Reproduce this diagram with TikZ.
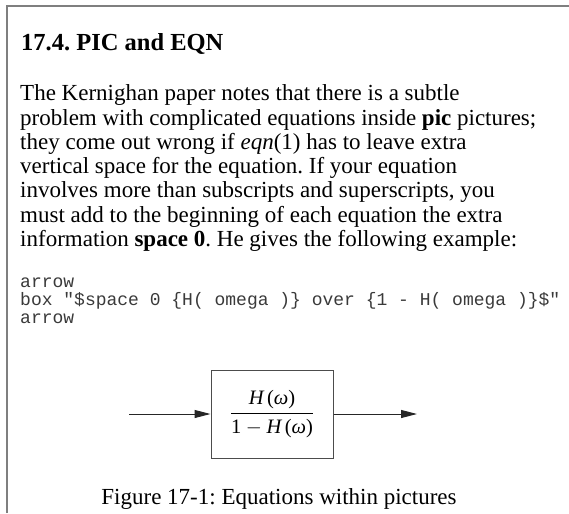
\documentclass[tikz,border=0pt]{standalone}
\usepackage{fontspec}
\setmainfont{Liberation Serif}
\setmonofont{Liberation Mono}
\usetikzlibrary{arrows.meta}
\definecolor{framegray}{HTML}{7F7F7F}
\definecolor{codegray}{HTML}{3A3A3A}
\frenchspacing
\tikzset{
  txt/.style={anchor=base west, inner sep=0pt, font=\fontsize{23}{24}\selectfont},
  code/.style={anchor=base west, inner sep=0pt, text=codegray, font=\fontsize{18}{20}\ttfamily},
  flow/.style={-{Triangle[length=16pt,width=8pt]}, line width=1pt, draw=black!85, fill=black!85},
  tfbox/.style={draw=black!70, line width=1pt, minimum width=122pt, minimum height=88pt, inner sep=0pt}
}
\begin{document}
\begin{tikzpicture}[x=1pt,y=-1pt]
  \useasboundingbox (0,0) rectangle (569,513);
  \draw[framegray, line width=2pt] (7,513) -- (7,6) -- (569,6);
  \node[txt, font=\fontsize{24.5}{28}\selectfont\bfseries] (title) at (21,51) {17.4. PIC and EQN};
  % paragraph, one node per printed line
  \foreach \ln [count=\i from 0] in {{The Kernighan paper notes that there is a subtle},
      {problem with complicated equations inside \textbf{pic} pictures;},
      {they come out wrong if \textit{eqn}(1) has to leave extra},
      {vertical space for the equation. If your equation},
      {involves more than subscripts and superscripts, you},
      {must add to the beginning of each equation the extra},
      {information \textbf{space 0}. He gives the following example:}} {
    \node[txt] (body\i) at (20,{101+24.2*\i}) {\ln};
  }
  \foreach \ln [count=\i from 0] in {{arrow},
      {box "\$space 0 \{H( omega )\} over \{1 - H( omega )\}\$"},
      {arrow}} {
    \node[code] (code\i) at (20,{287+18*\i}) {\ln};
  }
  % the block diagram
  \coordinate (in) at (129,414);
  \node[tfbox, font=\fontsize{20.5}{24}\selectfont] (tf) at (272,414)
    {$\displaystyle\frac{\textit{H}\,\textrm{(}\textit{ω}\textrm{)}}{\textrm{1} - \textit{H}\,\textrm{(}\textit{ω}\textrm{)}}$};
  \coordinate (out) at (417,414);
  \draw[flow] (in) -- (tf);
  \draw[flow] (tf) -- (out);
  \node[anchor=base, inner sep=0pt, font=\fontsize{23}{24}\selectfont] (caption) at (279,504)
    {Figure 17-1: Equations within pictures};
\end{tikzpicture}
\end{document}
